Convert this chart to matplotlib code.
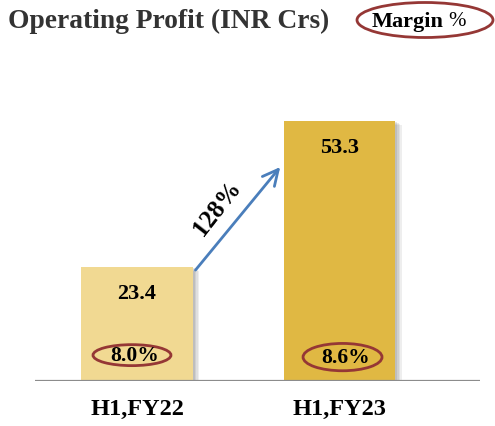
import matplotlib
matplotlib.use("Agg")
import matplotlib.pyplot as plt
from matplotlib.patches import Ellipse, Rectangle

# data
periods = ["H1,FY22", "H1,FY23"]
profit = [23.4, 53.3]
margin = ["8.0%", "8.6%"]
growth = "128%"

bar_colors = ["#F1D992", "#E0B843"]
ring = "#953735"
serif = ["Liberation Serif", "DejaVu Serif"]

W, H = 495, 426
fig = plt.figure(figsize=(W / 100, H / 100), dpi=100)
ax = fig.add_axes([35 / W, (H - 381) / H, 445 / W, 321 / H])

x = [0, 1]
width = 0.553
ax.set_xlim(-0.504, 1.694)
ax.set_ylim(0, 65.8)

# soft shadow behind the bars
for xi, v in zip(x, profit):
    for k, a in enumerate([0.10, 0.10, 0.12, 0.15]):
        d = 0.008 * (4 - k)
        ax.add_patch(Rectangle((xi - width / 2 + d, -0.9 * (4 - k) / 4), width, v,
                               color="#606060", alpha=a, lw=0, zorder=1))

bars = ax.bar(x, profit, width=width, color=bar_colors, zorder=2)

for xi, v in zip(x, profit):
    ax.text(xi, v - 5.6, f"{v}", ha="center", va="center", fontsize=16,
            fontweight="bold", family=serif, zorder=4)

# margin rings
ring_pos = [(-0.025, 5.3, 0.385, 4.3), (1.015, 4.9, 0.39, 5.6)]
for (cx, cy, ew, eh), m in zip(ring_pos, margin):
    ax.add_patch(Ellipse((cx, cy), ew, eh, fill=False, ec=ring, lw=2, zorder=3))
    ax.text(cx + 0.015, cy - 0.1, m, ha="center", va="center", fontsize=15.5,
            fontweight="bold", family=serif, zorder=4)

# growth arrow
ax.annotate("", xy=(0.716, 44.3), xytext=(0.28, 22.3),
            arrowprops=dict(arrowstyle="->", color="#4A7EBB", lw=2,
                            mutation_scale=28), zorder=5)
ax.text(0.395, 35.5, growth, rotation=52, ha="center", va="center",
        fontsize=18, fontweight="semibold", family=serif, zorder=5)

ax.axhline(0, color="#8C8C8C", lw=1.6, zorder=3)

ax.set_xticks(x)
ax.set_xticklabels(periods, fontsize=17.5, fontweight="bold", family=serif)
ax.tick_params(axis="x", length=0, pad=13)
ax.set_yticks([])
for s in ax.spines.values():
    s.set_visible(False)

# title and legend
fig.text(8 / W, 1 - 21 / H, "Operating Profit (INR Crs)", ha="left", va="center",
         fontsize=19.8, fontweight="bold", color="#333333", family=serif)
fig.patches.append(Ellipse((425 / W, 1 - 20 / H), 136 / W, 35 / H, fill=False,
                           ec=ring, lw=2, transform=fig.transFigure))
fig.text(372 / W, 1 - 22 / H, "Margin", ha="left", va="center", fontsize=16,
         fontweight="bold", family=serif)
fig.text(448 / W, 1 - 22 / H, "%", ha="left", va="center", fontsize=15,
         family=serif)

fig.savefig("out.png", dpi=100)
